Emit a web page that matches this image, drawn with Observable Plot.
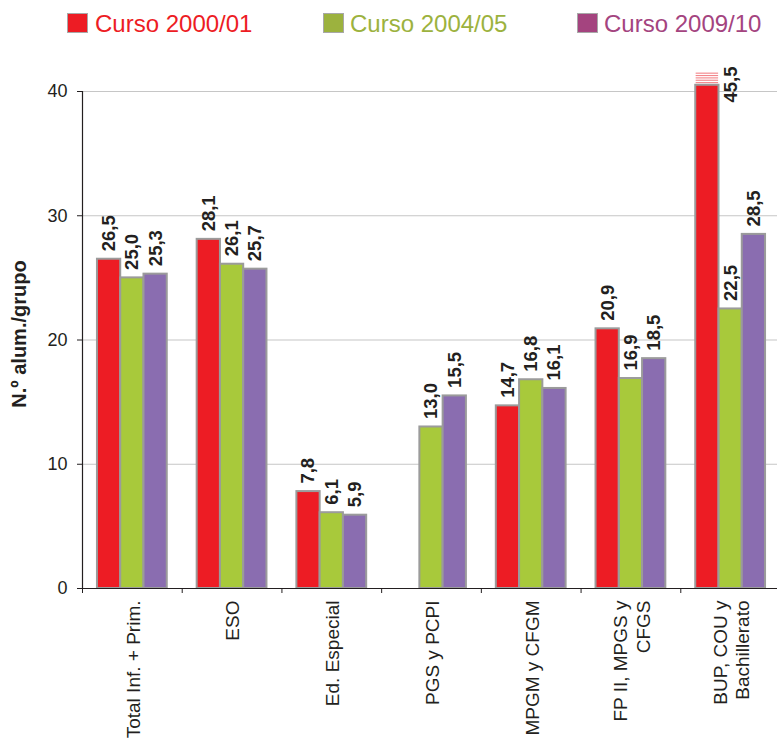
<!DOCTYPE html>
<html>
<head>
<meta charset="utf-8">
<script src="https://cdn.jsdelivr.net/npm/d3@7"></script>
<script src="https://cdn.jsdelivr.net/npm/@observablehq/plot@0.6"></script>
<style>
  body { margin: 0; background: white; }
  #wrap { width: 777px; font-family: "Liberation Sans", Arial, Helvetica, sans-serif; }
  #legend { position: relative; height: 48px; }
  .sw { position: absolute; top: 13px; width: 19px; height: 18px; border: 1.5px solid #a8a8a8; }
  .lt { position: absolute; top: 12px; font-size: 24px; line-height: 24px; white-space: nowrap; }
</style>
</head>
<body>
<div id="wrap">
  <div id="legend"></div>
  <div id="chart"></div>
</div>
<script>
const categories = ["Total Inf. + Prim.", "ESO", "Ed. Especial", "PGS y PCPI", "MPGM y CFGM", "FP II, MPGS y\nCFGS", "BUP, COU y\nBachillerato"];
const series = ["Curso 2000/01", "Curso 2004/05", "Curso 2009/10"];
const v2000 = [26.5, 28.1, 7.8, null, 14.7, 20.9, 45.5];
const v2004 = [25.0, 26.1, 6.1, 13.0, 16.8, 16.9, 22.5];
const v2009 = [25.3, 25.7, 5.9, 15.5, 16.1, 18.5, 28.5];
const yTicks = [0, 10, 20, 30, 40];
const barColors = ["#ED1C24", "#A8C93B", "#8A6DB0"];
const legendColors = ["#ED1C24", "#9CB23E", "#A4447F"];

const values = [v2000, v2004, v2009];
const cap = 40.5;           // bars above this are drawn broken
const groupPad = 0.15;
const barW = (1 - 2 * groupPad) / series.length;

const rows = [];
categories.forEach((c, ci) => {
  series.forEach((s, si) => {
    const v = values[si][ci];
    if (v == null) return;
    rows.push({cat: c, ci, si, series: s, value: v});
  });
});
const x1 = d => d.ci + groupPad + d.si * barW;
const x2 = d => x1(d) + barW;
const fmt = v => d3.format(".1f")(v).replace(".", ",");

// break marks on truncated bars
const broken = rows.filter(d => d.value > cap);
const stripes = [];
broken.forEach(d => d3.range(5).forEach(k => stripes.push({...d, k})));

const normalLabels = rows.filter(d => d.value <= cap);
const brokenLabels = broken;

// legend
const leg = d3.select("#legend");
const legPos = [[67, 95], [323, 350], [577, 604]];
series.forEach((s, i) => {
  leg.append("div").attr("class", "sw")
    .style("left", legPos[i][0] + "px").style("background", legendColors[i]);
  leg.append("div").attr("class", "lt")
    .style("left", legPos[i][1] + "px").style("color", legendColors[i]).text(s);
});

const chart = Plot.plot({
  width: 777,
  height: 697,
  marginLeft: 82,
  marginRight: -3,
  marginTop: 43,
  marginBottom: 157,
  x: {type: "linear", domain: [0, categories.length], axis: null},
  y: {domain: [0, 40], axis: null},
  style: {fontFamily: "'Liberation Sans', Arial, Helvetica, sans-serif", color: "#231f20", background: "white", overflow: "visible"},
  marks: [
    Plot.ruleY(yTicks.filter(t => t > 0), {stroke: "#c6c6c6", strokeWidth: 1.2}),
    Plot.rectY(rows, {
      x1, x2, y1: 0, y2: d => Math.min(d.value, cap),
      fill: d => barColors[d.si], stroke: "#9b9b9b", strokeWidth: 2
    }),
    Plot.rectY(stripes, {
      x1: d => x1(d) + 0.004, x2: d => x2(d) - 0.004,
      y1: d => cap + 0.13 + d.k * 0.19, y2: d => cap + 0.22 + d.k * 0.19,
      fill: "#F3868B"
    }),
    Plot.ruleY([0], {stroke: "#231f20", strokeWidth: 1.2}),
    Plot.ruleX([0], {y1: 0, y2: 40, stroke: "#231f20", strokeWidth: 1.2}),
    Plot.axisY({ticks: yTicks, tickSize: 5, tickPadding: 10, fontSize: 18, label: null, stroke: "#231f20"}),
    Plot.axisX({ticks: d3.range(categories.length + 1), tickSize: 5, tickFormat: () => "", label: null, stroke: "#231f20"}),
    Plot.text(categories, {
      x: (d, i) => i + 0.5, y: () => 0, dy: 12,
      rotate: -90, textAnchor: "end", lineAnchor: "middle",
      fontSize: 19, lineHeight: 1.2, fill: "#231f20"
    }),
    Plot.text(normalLabels, {
      x: d => (x1(d) + x2(d)) / 2, y: "value", dy: -8, text: d => fmt(d.value),
      rotate: -90, textAnchor: "start", lineAnchor: "middle",
      fontSize: 18.5, fontWeight: "bold", fill: "#231f20"
    }),
    Plot.text(brokenLabels, {
      x: d => (x1(d) + x2(d)) / 2 + barW, y: () => 40, dy: 11, text: d => fmt(d.value),
      rotate: -90, textAnchor: "start", lineAnchor: "middle",
      fontSize: 18.5, fontWeight: "bold", fill: "#231f20"
    }),
    Plot.text(["N.º alum./grupo"], {
      frameAnchor: "left", dx: -63, dy: -6, rotate: -90, textAnchor: "middle",
      fontSize: 20, fontWeight: "bold", fill: "#231f20"
    })
  ]
});
document.getElementById("chart").appendChild(chart);
</script>
</body>
</html>
